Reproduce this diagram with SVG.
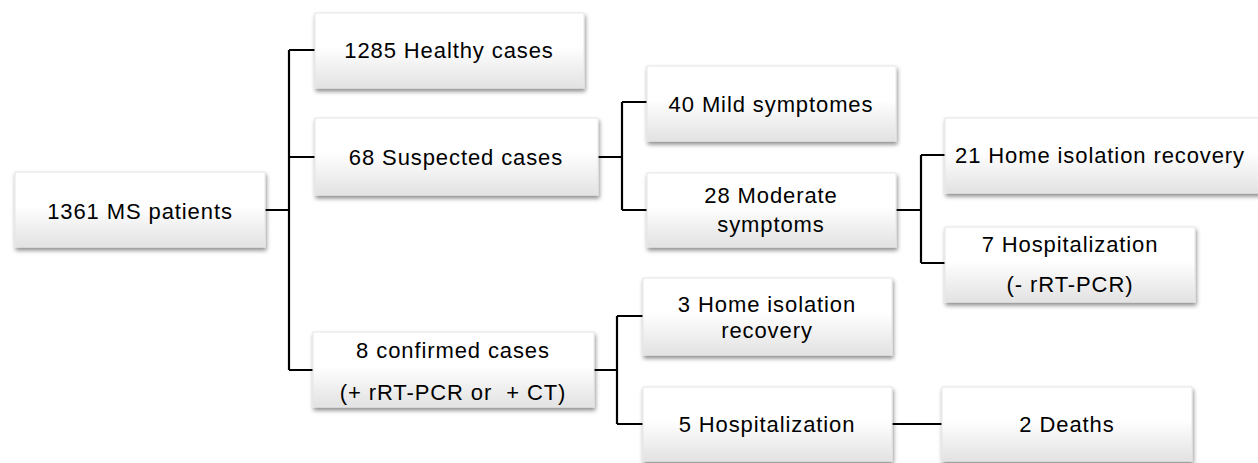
<svg xmlns="http://www.w3.org/2000/svg" width="1258" height="463" viewBox="0 0 1258 463">
<defs>
<linearGradient id="g" x1="0" y1="0" x2="0" y2="1">
<stop offset="0" stop-color="#ffffff"/>
<stop offset="0.45" stop-color="#ffffff"/>
<stop offset="1" stop-color="#e2e2e2"/>
</linearGradient>
<filter id="sh" x="-10%" y="-20%" width="125%" height="150%">
<feDropShadow dx="1" dy="3" stdDeviation="2" flood-color="#000" flood-opacity="0.45"/>
</filter>
<style>
.box{fill:url(#g);stroke:#e6e6e6;stroke-width:1;filter:url(#sh)}
.t{font-family:"Liberation Sans",Arial,sans-serif;font-size:22px;letter-spacing:0.9px;fill:#000;text-anchor:middle;white-space:pre}
.c{fill:none;stroke:#000;stroke-width:2.2}
</style>
</defs>
<rect width="1258" height="463" fill="#fff"/>
<g id="connectors">
<path class="c" d="M265 210H289M289 50V370M289 50H315M289 157H315M289 370H313"/>
<path class="c" d="M598 157H622M622 102V210M622 102H647M622 210H647"/>
<path class="c" d="M896 210H921M921 155V263M921 155H945M921 263H945"/>
<path class="c" d="M594 370H617M617 316V424M617 316H643M617 424H643"/>
<path class="c" d="M892 424H942"/>
</g>
<g id="n1"><rect class="box" x="15" y="172" width="250" height="75"/><text class="t" x="140" y="219">1361 MS patients</text></g>
<g id="n2"><rect class="box" x="315" y="13" width="269" height="75"/><text class="t" x="449" y="58">1285 Healthy cases</text></g>
<g id="n3"><rect class="box" x="315" y="118" width="283" height="77"/><text class="t" x="456" y="165">68 Suspected cases</text></g>
<g id="n4"><rect class="box" x="313" y="332" width="281" height="75"/><text class="t" x="453" y="358">8 confirmed cases</text><text class="t" x="453" y="400" xml:space="preserve">(+ rRT-PCR or  + CT)</text></g>
<g id="n5"><rect class="box" x="647" y="66" width="249" height="75"/><text class="t" x="771" y="112">40 Mild symptomes</text></g>
<g id="n6"><rect class="box" x="647" y="173" width="249" height="74"/><text class="t" x="771" y="203">28 Moderate</text><text class="t" x="771" y="232">symptoms</text></g>
<g id="n7"><rect class="box" x="945" y="118" width="330" height="75"/><text class="t" x="955" y="163" style="text-anchor:start">21 Home isolation recovery</text></g>
<g id="n8"><rect class="box" x="945" y="227" width="250" height="75"/><text class="t" x="1070" y="252">7 Hospitalization</text><text class="t" x="1070" y="292">(- rRT-PCR)</text></g>
<g id="n9"><rect class="box" x="643" y="278" width="249" height="77"/><text class="t" x="767" y="312">3 Home isolation</text><text class="t" x="767" y="338">recovery</text></g>
<g id="n10"><rect class="box" x="643" y="387" width="249" height="74"/><text class="t" x="767" y="432">5 Hospitalization</text></g>
<g id="n11"><rect class="box" x="942" y="387" width="250" height="74"/><text class="t" x="1067" y="432">2 Deaths</text></g>
</svg>
